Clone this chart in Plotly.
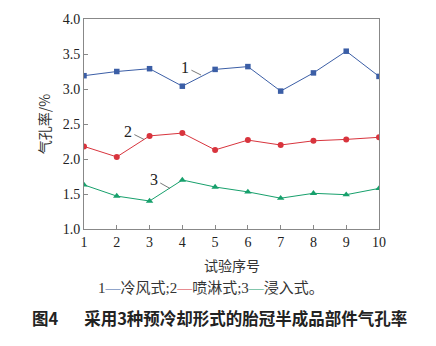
import plotly.graph_objects as go

trial = [1, 2, 3, 4, 5, 6, 7, 8, 9, 10]
cold_air = [3.19, 3.25, 3.29, 3.04, 3.28, 3.32, 2.97, 3.23, 3.54, 3.18]
spray = [2.18, 2.03, 2.33, 2.37, 2.13, 2.27, 2.20, 2.26, 2.28, 2.31]
immerse = [1.63, 1.47, 1.40, 1.70, 1.60, 1.53, 1.44, 1.51, 1.49, 1.58]

blue = "#3b5ea6"
red = "#d8343d"
green = "#17a06c"
serif = "Liberation Serif, Times New Roman, serif"
cjk = "Noto Sans CJK SC, sans-serif"

fig = go.Figure()
fig.add_trace(go.Scatter(x=trial, y=cold_air, mode="lines+markers",
                         line=dict(color=blue, width=1),
                         marker=dict(symbol="square", size=5.5, color=blue)))
fig.add_trace(go.Scatter(x=trial, y=spray, mode="lines+markers",
                         line=dict(color=red, width=1),
                         marker=dict(symbol="circle", size=6, color=red)))
fig.add_trace(go.Scatter(x=trial, y=immerse, mode="lines+markers",
                         line=dict(color=green, width=1),
                         marker=dict(symbol="triangle-up", size=6.5, color=green)))

labels = [("1", 4.57, 3.20, -16, -8), ("2", 2.83, 2.28, -16, -8), ("3", 3.62, 1.58, -16, -9)]
for t, x, y, ax, ay in labels:
    fig.add_annotation(x=x, y=y, xref="x", yref="y", text=t, showarrow=True,
                       arrowhead=0, arrowwidth=0.8, arrowcolor="#555", ax=ax, ay=ay,
                       standoff=0, startstandoff=1,
                       font=dict(family=serif, size=16, color="#222"))

fig.add_annotation(x=0.5, y=-0.115, xref="paper", yref="paper", yanchor="top",
                   text="试验序号", showarrow=False,
                   font=dict(family=cjk, size=14, color="#333"))
fig.add_annotation(
    x=0.43, y=-0.235, xref="paper", yref="paper", yanchor="top", showarrow=False,
    text=("1<span style='color:%s'>—</span>冷风式;2<span style='color:%s'>—</span>喷淋式;"
          "3<span style='color:%s'>—</span>浸入式。") % (blue, red, green),
    font=dict(family=serif + ", " + cjk, size=15, color="#333"))
fig.add_annotation(x=-0.183, y=-0.355, xref="paper", yref="paper", xanchor="left", yanchor="top",
                   showarrow=False,
                   text="<b>图4</b>&nbsp;&nbsp;&nbsp;&nbsp;&nbsp;&nbsp;&nbsp;<b>采用3种预冷却形式的胎冠半成品部件气孔率</b>",
                   font=dict(family=cjk, size=16.5, color="#222"))

fig.update_layout(
    width=436, height=346,
    margin=dict(l=84, r=57, t=16, b=117),
    paper_bgcolor="white", plot_bgcolor="white",
    showlegend=False,
    xaxis=dict(range=[1, 10], tickvals=trial, ticks="inside", ticklen=4,
               tickcolor="#888", showline=True, linecolor="#888", linewidth=1,
               mirror=True, showgrid=False, zeroline=False,
               tickfont=dict(family=serif, size=14, color="#222")),
    yaxis=dict(range=[1, 4], dtick=0.5, tickformat=".1f", ticks="inside", ticklen=4,
               tickcolor="#888", showline=True, linecolor="#888", linewidth=1,
               mirror=True, showgrid=False, zeroline=False,
               title=dict(text="气孔率/%", font=dict(family=cjk, size=14, color="#333"), standoff=8),
               tickfont=dict(family=serif, size=14, color="#222")),
)

fig.write_html("out.html")
